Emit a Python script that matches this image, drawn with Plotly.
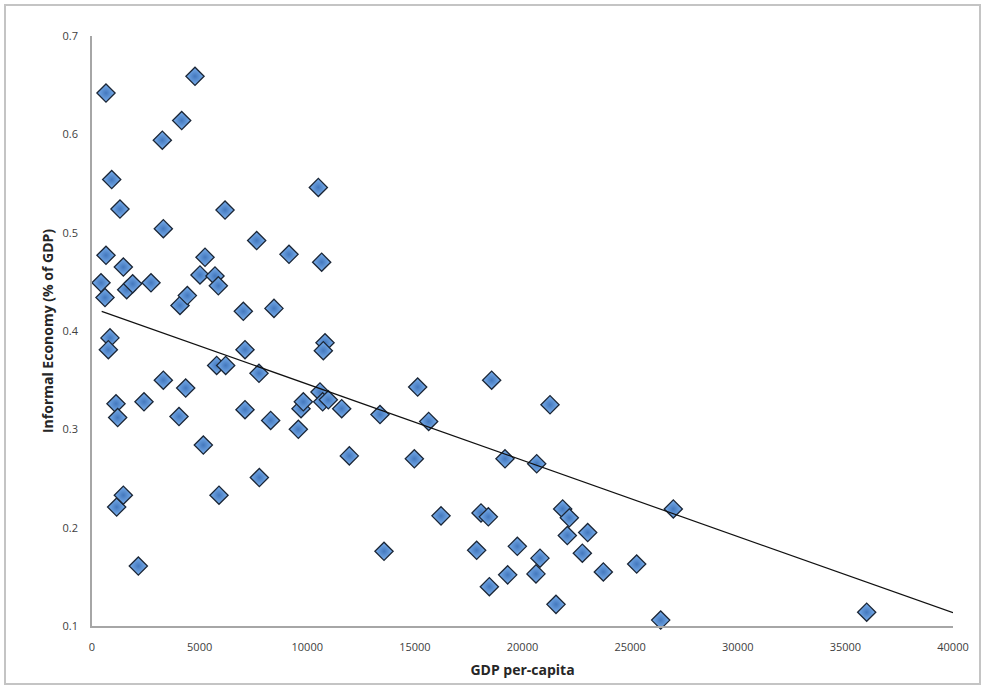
import plotly.graph_objects as go

# GDP per-capita (x) and informal economy share (y)
gdp = [650, 4785, 4167, 3267, 915, 1300, 3314, 6180, 650, 1456,
       418, 604, 1611, 1889, 2741, 4088, 4429, 5017, 5250, 5714,
       5869, 7030, 7650, 8455, 9152, 10515, 10670,
       836, 759, 1115, 1192, 2416, 3314, 4042, 4352, 5172, 5791,
       6210, 7108, 7758, 7108, 8300, 9586, 9710, 9818, 10592, 10716,
       10825, 10747, 1146, 1456, 2152, 5900, 7774,
       10979, 11600, 11955, 13380, 13566, 15130, 14975, 15640, 16214, 18567,
       17870, 18072, 18413, 18460, 19187, 19311, 19760, 20659, 20627, 20813,
       21278, 21556, 21866, 22175, 22082, 23028, 22780, 23755, 25304,
       26420, 27006, 35990]
informal = [0.642, 0.659, 0.614, 0.594, 0.554, 0.524, 0.504, 0.523, 0.477, 0.465,
            0.449, 0.434, 0.442, 0.448, 0.449, 0.426, 0.436, 0.457, 0.475, 0.456,
            0.446, 0.420, 0.492, 0.423, 0.478, 0.546, 0.470,
            0.393, 0.381, 0.326, 0.312, 0.328, 0.350, 0.313, 0.342, 0.284, 0.365,
            0.365, 0.381, 0.357, 0.320, 0.309, 0.300, 0.321, 0.328, 0.338, 0.328,
            0.388, 0.380, 0.221, 0.233, 0.161, 0.233, 0.251,
            0.330, 0.321, 0.273, 0.315, 0.176, 0.343, 0.270, 0.308, 0.212, 0.350,
            0.177, 0.215, 0.211, 0.140, 0.270, 0.152, 0.181, 0.265, 0.153, 0.169,
            0.325, 0.122, 0.219, 0.210, 0.192, 0.195, 0.174, 0.155, 0.163,
            0.106, 0.219, 0.114]

# Linear trend line end points
trend_x = [450, 40000]
trend_y = [0.420, 0.1135]

x_ticks = [0, 5000, 10000, 15000, 20000, 25000, 30000, 35000, 40000]
y_ticks = [0.1, 0.2, 0.3, 0.4, 0.5, 0.6, 0.7]

FONT = "Open Sans"

fig = go.Figure()
fig.add_trace(go.Scatter(
    x=gdp, y=informal, mode="markers",
    marker=dict(symbol="diamond", size=14, color="#7ab0ee",
                gradient=dict(type="radial", color="#4478bd"),
                line=dict(color="#1b2636", width=1.3)),
    showlegend=False, cliponaxis=False,
))
fig.add_trace(go.Scatter(
    x=trend_x, y=trend_y, mode="lines",
    line=dict(color="#111111", width=1.2),
    showlegend=False,
))

fig.update_layout(
    width=981, height=685,
    margin=dict(l=92, r=28, t=36, b=59),
    paper_bgcolor="white", plot_bgcolor="white",
    font=dict(family=FONT, color="#404040"),
    xaxis=dict(range=[0, 40000], tickvals=x_ticks, ticktext=[str(v) for v in x_ticks],
               automargin=False,
               showgrid=False, zeroline=False, showline=True, linecolor="#a6a6a6",
               linewidth=1.5, ticks="outside", ticklen=10, tickcolor="rgba(0,0,0,0)",
               tickfont=dict(size=11, color="#404040"),
               title=dict(text="<b>GDP per-capita</b>", font=dict(size=14, color="#262626"),
                          standoff=12)),
    yaxis=dict(range=[0.1, 0.7], tickvals=y_ticks, ticktext=[str(v) for v in y_ticks],
               automargin=False,
               showgrid=False, zeroline=False, showline=True, linecolor="#a6a6a6",
               linewidth=1.5, ticks="outside", ticklen=10, tickcolor="rgba(0,0,0,0)",
               tickfont=dict(size=11, color="#404040"),
               title=dict(text="<b>Informal Economy (% of GDP)</b>",
                          font=dict(size=14, color="#262626"), standoff=6)),
    shapes=[dict(type="rect", xref="paper", yref="paper",
                 x0=(5 - 92) / 861, x1=(980 - 92) / 861,
                 y0=-(684 - 626) / 590, y1=(626 - 5) / 590,
                 line=dict(color="#c4c4c4", width=2), fillcolor="rgba(0,0,0,0)",
                 layer="below")],
)

fig.write_html("out.html", config={"displayModeBar": False},
               post_script="document.body.style.margin='0';document.body.style.overflow='hidden';")
